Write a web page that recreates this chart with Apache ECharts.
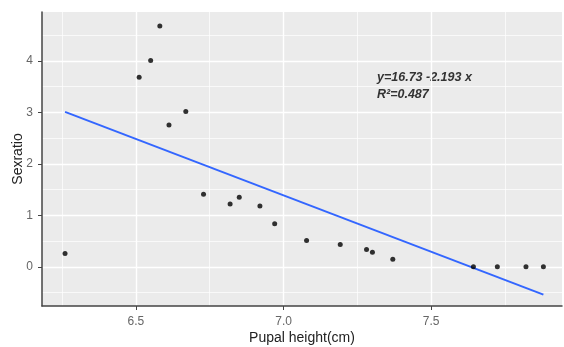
<!DOCTYPE html>
<html>
<head>
<meta charset="utf-8">
<script src="https://cdn.jsdelivr.net/npm/echarts@6/dist/echarts.min.js"></script>
<style>
  html, body { margin: 0; padding: 0; background: #fff; }
  #sexRatio { width: 564px; height: 347px; }
</style>
</head>
<body>
<div id="sexRatio"></div>
<script>
// points: pupal height (cm) / sex ratio
var pupalHeight = [6.26, 6.511, 6.55, 6.581, 6.612, 6.669, 6.729, 6.819, 6.85, 6.92, 6.97, 7.078, 7.192, 7.281, 7.301, 7.37, 7.643, 7.724, 7.821, 7.88]
var sexRatio = [0.26, 3.685, 4.008, 4.677, 2.757, 3.016, 1.408, 1.22, 1.35, 1.181, 0.837, 0.513, 0.436, 0.338, 0.286, 0.15, 0, 0, 0, 0]
// fitted line ends
var fitX = [6.26, 7.88]
var fitY = [3.01, -0.54]
// ticks
var xMajor = [6.5, 7.0, 7.5]
var xMinor = [6.25, 6.75, 7.25, 7.75]
var yMajor = [0, 1, 2, 3, 4]
var yMinor = [-0.5, 0.5, 1.5, 2.5, 3.5, 4.5]
var fitLabel = 'y=16.73 -2.193 x\nR\u00b2=0.487'

var chart = echarts.init(document.getElementById('sexRatio'))
var xRange = {min: 6.182, max: 7.943}
var yRange = {min: -0.76, max: 4.95}
var font = 'Liberation Sans, Arial, sans-serif'

function minorAxis (range, ticks, pos) {
  return {
    type: 'value',
    position: pos,
    min: range.min,
    max: range.max,
    axisLine: {show: false},
    axisLabel: {show: false},
    axisTick: {show: false, customValues: ticks},
    splitLine: {show: true, lineStyle: {color: '#fff', width: 0.7}}
  }
}

chart.setOption({
  backgroundColor: '#fff',
  animation: false,
  grid: {
    left: 42,
    right: 2,
    top: 12,
    bottom: 41,
    containLabel: false,
    outerBoundsMode: 'none',
    show: true,
    backgroundColor: '#EBEBEB',
    borderWidth: 0
  },
  xAxis: [
    minorAxis(xRange, xMinor, 'bottom'),
    {
      type: 'value',
      position: 'bottom',
      min: xRange.min,
      max: xRange.max,
      name: 'Pupal height(cm)',
      nameLocation: 'middle',
      nameGap: 25,
      nameMoveOverlap: false,
      nameTextStyle: {color: '#222', fontSize: 14, fontFamily: font},
      axisLine: {show: true, onZero: false, lineStyle: {color: '#444', width: 1.5}},
      axisTick: {show: true, length: 4, customValues: xMajor, lineStyle: {color: '#444'}},
      axisLabel: {
        customValues: xMajor,
        color: '#666',
        fontSize: 12,
        fontFamily: font,
        margin: 10,
        formatter: function (v) { return v.toFixed(1) }
      },
      splitLine: {show: true, lineStyle: {color: '#fff', width: 1.4}}
    }
  ],
  yAxis: [
    minorAxis(yRange, yMinor, 'left'),
    {
      type: 'value',
      position: 'left',
      min: yRange.min,
      max: yRange.max,
      name: 'Sexratio',
      nameLocation: 'middle',
      nameGap: 17,
      nameMoveOverlap: false,
      nameTextStyle: {color: '#222', fontSize: 14, fontFamily: font},
      axisLine: {show: true, onZero: false, lineStyle: {color: '#444', width: 1.5}},
      axisTick: {show: true, length: 4, customValues: yMajor, lineStyle: {color: '#444'}},
      axisLabel: {
        customValues: yMajor,
        color: '#666',
        fontSize: 12,
        fontFamily: font,
        margin: 9
      },
      splitLine: {show: true, lineStyle: {color: '#fff', width: 1.4}}
    }
  ],
  graphic: [{
    type: 'text',
    left: 377,
    top: 69,
    style: {
      text: fitLabel,
      font: 'italic bold 12.5px ' + font,
      fill: '#333',
      lineHeight: 17
    }
  }],
  series: [
    {
      name: 'fit',
      type: 'line',
      xAxisIndex: 1,
      yAxisIndex: 1,
      showSymbol: false,
      data: fitX.map(function (x, i) { return [x, fitY[i]] }),
      lineStyle: {color: '#3366FF', width: 2},
      z: 3
    },
    {
      name: 'obs',
      type: 'scatter',
      xAxisIndex: 1,
      yAxisIndex: 1,
      symbolSize: 5,
      itemStyle: {color: '#000'},
      data: pupalHeight.map(function (x, i) { return [x, sexRatio[i]] }),
      z: 4
    }
  ]
})
</script>
</body>
</html>
